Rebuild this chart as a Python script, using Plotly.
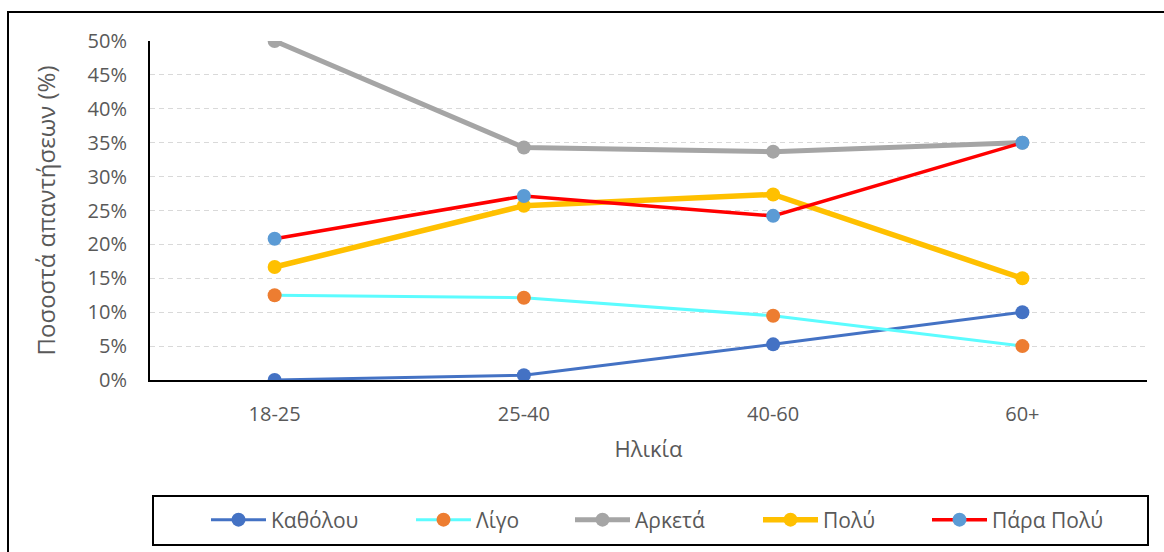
import plotly.graph_objects as go

categories = ["18-25", "25-40", "40-60", "60+"]
kathólou = [0.0, 0.71, 5.26, 10.0]
ligo = [12.5, 12.14, 9.47, 5.0]
arketa = [50.0, 34.29, 33.68, 35.0]
poly = [16.67, 25.71, 27.37, 15.0]
para_poly = [20.83, 27.14, 24.21, 35.0]

series_names = ["Καθόλου", "Λίγο", "Αρκετά", "Πολύ", "Πάρα Πολύ"]
y_ticks = [0, 5, 10, 15, 20, 25, 30, 35, 40, 45, 50]
y_ticktext = [f"{v}%" for v in y_ticks]

FONT = "Open Sans"
TXT = "#595959"

styles = [
    dict(line="#4472C4", marker="#4472C4", width=3),
    dict(line="#5CFCFF", marker="#ED7D31", width=3),
    dict(line="#A5A5A5", marker="#A5A5A5", width=5),
    dict(line="#FFC000", marker="#FFC000", width=5.5),
    dict(line="#FF0000", marker="#5B9BD5", width=3.5),
]
data = [kathólou, ligo, arketa, poly, para_poly]
legend_ids = ["legend", "legend2", "legend3", "legend4", "legend5"]

fig = go.Figure()
for name, vals, st, lg in zip(series_names, data, styles, legend_ids):
    fig.add_trace(go.Scatter(
        x=categories, y=vals, name=name, mode="lines+markers",
        line=dict(color=st["line"], width=st["width"]),
        marker=dict(color=st["marker"], size=14),
        legend=lg,
    ))

# plot area: x 150..1147, y 41..380 (px)
PW, PH = 997.0, 339.0
def px_x(px):
    return (px - 150) / PW
def px_y(py):
    return (380 - py) / PH

legend_starts = [212, 417, 576, 764, 933]
leg_common = dict(orientation="h", yanchor="middle", xanchor="left",
                  font=dict(family=FONT, size=21, color=TXT),
                  bgcolor="rgba(0,0,0,0)", borderwidth=0, itemwidth=55)
layout_legends = {}
for lg, sx in zip(legend_ids, legend_starts):
    layout_legends[lg] = dict(leg_common, x=px_x(sx - 6), y=px_y(520))

fig.update_layout(
    width=1164, height=552,
    margin=dict(l=150, r=17, t=41, b=172, autoexpand=False),
    paper_bgcolor="white", plot_bgcolor="white",
    font=dict(family=FONT, color=TXT),
    showlegend=True,
    **layout_legends,
    xaxis=dict(
        type="category", range=[-0.5, 3.5],
        showline=True, linecolor="black", linewidth=2,
        showgrid=False, zeroline=False,
        ticks="outside", ticklen=15, tickcolor="rgba(0,0,0,0)",
        tickfont=dict(family=FONT, size=20, color=TXT),
        title=dict(text="Ηλικία", font=dict(family=FONT, size=22, color=TXT), standoff=16),
    ),
    yaxis=dict(
        range=[0, 50], tickmode="array", tickvals=y_ticks, ticktext=y_ticktext,
        showline=True, linecolor="black", linewidth=2,
        showgrid=True, gridcolor="#D9D9D9", gridwidth=1, griddash="5px,4px",
        zeroline=False,
        ticks="outside", ticklen=17, tickcolor="rgba(0,0,0,0)",
        tickfont=dict(family=FONT, size=20, color=TXT),
        title=dict(text="Ποσοστά απαντήσεων (%)", font=dict(family=FONT, size=24, color=TXT), standoff=25),
    ),
    shapes=[
        dict(type="rect", xref="paper", yref="paper",
             x0=px_x(153), x1=px_x(1148), y0=px_y(545), y1=px_y(496),
             line=dict(color="black", width=2), fillcolor="rgba(0,0,0,0)", layer="below"),
        dict(type="rect", xref="paper", yref="paper",
             x0=px_x(8), x1=px_x(1175), y0=px_y(570), y1=px_y(12),
             line=dict(color="black", width=2), fillcolor="rgba(0,0,0,0)", layer="below"),
    ],
)

fig.write_html("out.html", config={"displayModeBar": False},
               post_script="document.body.style.margin='0';document.body.style.overflow='hidden';")
